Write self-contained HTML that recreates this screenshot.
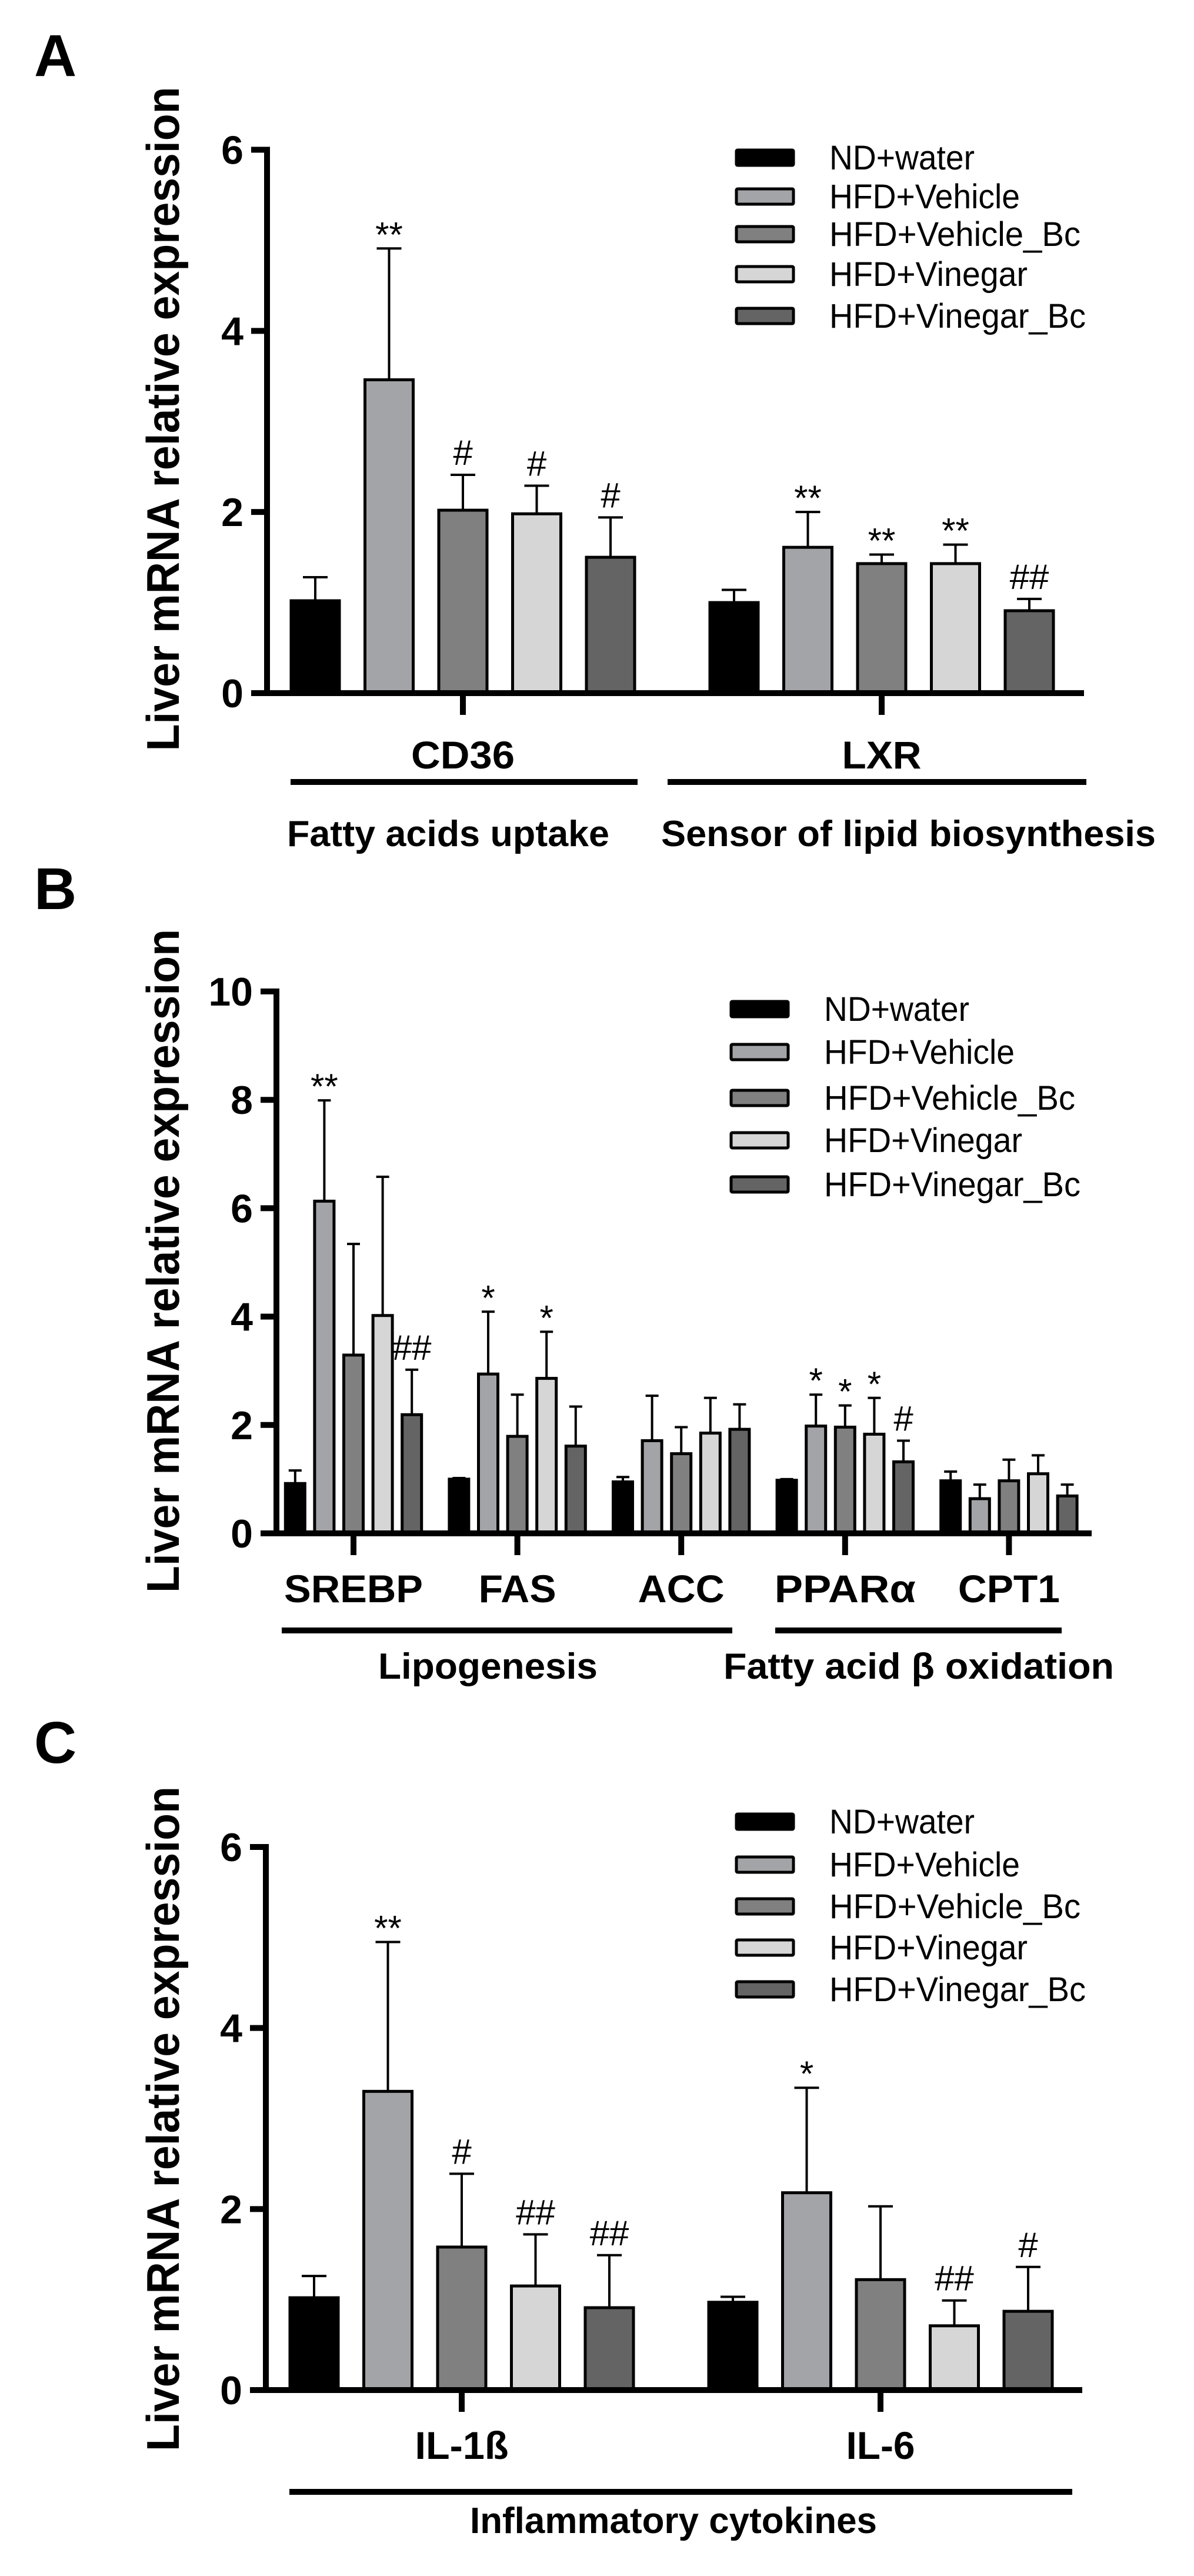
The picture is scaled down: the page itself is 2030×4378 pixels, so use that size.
<!DOCTYPE html>
<html><head><meta charset="utf-8"><style>
html,body{margin:0;padding:0;background:#fff;}
svg{display:block;}
text{font-family:"Liberation Sans",Arial,sans-serif;}
.narrow{font-family:"Liberation Sans Narrow","Liberation Sans",sans-serif;}
</style></head><body>
<svg id="fig" width="2030" height="4378" viewBox="0 0 2030 4378" xmlns="http://www.w3.org/2000/svg">
<rect x="0" y="0" width="2030" height="4378" fill="#fff"/>
</svg>
<script>
// ---- Data ----
const seriesNames = ["ND+water","HFD+Vehicle","HFD+Vehicle_Bc","HFD+Vinegar","HFD+Vinegar_Bc"];
const seriesColors = ["#000000","#a3a4a8","#808080","#d6d6d6","#646464"];

const catsA = ["CD36","LXR"];
const meanA = [[1.02,3.46,2.02,1.98,1.50],[1.00,1.61,1.43,1.43,0.91]];
const errA  = [[1.28,4.91,2.41,2.29,1.94],[1.14,2.00,1.53,1.64,1.04]];
const sigA  = [["","**","#","#","#"],["","**","**","**","##"]];
const ticksA = [0,2,4,6];

const catsB = ["SREBP","FAS","ACC","PPARα","CPT1"];
const meanB = [[0.92,6.13,3.29,4.02,2.19],[1.00,2.94,1.79,2.86,1.61],[0.95,1.71,1.47,1.85,1.92],[0.98,1.98,1.96,1.83,1.32],[0.97,0.64,0.97,1.10,0.69]];
const errB  = [[1.16,7.99,5.34,6.58,3.02],[1.02,4.09,2.56,3.72,2.34],[1.04,2.54,1.96,2.50,2.38],[1.00,2.56,2.36,2.50,1.71],[1.14,0.90,1.36,1.44,0.90]];
const sigB  = [["","**","","","##"],["","*","","*",""],["","","","",""],["","*","*","*","#"],["","","","",""]];
const ticksB = [0,2,4,6,8,10];

const catsC = ["IL-1ß","IL-6"];
const meanC = [[1.02,3.30,1.58,1.15,0.91],[0.97,2.18,1.22,0.71,0.87]];
const errC  = [[1.26,4.95,2.39,1.72,1.49],[1.03,3.34,2.03,0.99,1.36]];
const sigC  = [["","**","#","##","##"],["","*","","##","#"]];
const ticksC = [0,2,4,6];

// ---- Drawing ----
const NS="http://www.w3.org/2000/svg";
const svg=document.getElementById('fig');
function mk(tag,attrs,parent,txt){const e=document.createElementNS(NS,tag);for(const k in attrs)e.setAttribute(k,attrs[k]);if(txt!==undefined)e.textContent=txt;(parent||svg).appendChild(e);return e;}

function panel(cfg){
  const g=mk('g',{});
  
  
  const y=v=>cfg.y0-(v-0)*(cfg.y0-cfg.yTop)/(cfg.ymax);
  // letter
  const L=mk('text',{x:58,y:cfg.letterY,'font-size':100,'font-weight':'bold'},g,cfg.letter);
  
  
  // y label
  const yl=mk('text',{x:0,y:0,'font-size':78,'font-weight':'bold','text-anchor':'middle',transform:`translate(304,${cfg.ylabC}) rotate(-90)`,textLength:cfg.ylabLen,lengthAdjust:'spacingAndGlyphs'},g,"Liver mRNA relative expression");
  
  
  // bars
  cfg.cats.forEach((c,ci)=>{
    const gc=cfg.g0+ci*cfg.gp;
    cfg.mean[ci].forEach((m,si)=>{
      const cx=gc+(si-2)*cfg.bp;
      const e=cfg.err[ci][si];
      const ln=mk('line',{x1:cx,x2:cx,y1:y(m),y2:y(e),stroke:'#000','stroke-width':cfg.ew},g);
      
      
      const cp=mk('line',{x1:cx-cfg.cw/2,x2:cx+cfg.cw/2,y1:y(e),y2:y(e),stroke:'#000','stroke-width':cfg.ew},g);
      
      
      const r=mk('rect',{x:cx-cfg.bw/2,y:y(m),width:cfg.bw,height:y(0)-y(m),fill:seriesColors[si],stroke:'#000','stroke-width':cfg.bs},g);
      
      
      const s=cfg.sig[ci][si];
      if(s){
        const star=s.indexOf('*')>=0;
        const t=mk('text',{x:cx,y:y(e)-(star?3:17),'font-size':60,'text-anchor':'middle',class:'narrow'},g,s);
        
        
      }
    });
    const tk=mk('line',{x1:gc,x2:gc,y1:cfg.y0,y2:cfg.y0+37,stroke:'#000','stroke-width':10},g);
    
    
    const cl=mk('text',{x:gc,y:cfg.catY,'font-size':66,'font-weight':'bold','text-anchor':'middle',textLength:cfg.catW[ci],lengthAdjust:'spacingAndGlyphs'},g,c);
    
    
  });
  // axes
  const ya=mk('line',{x1:cfg.ax,x2:cfg.ax,y1:cfg.yTop-5,y2:cfg.y0+5,stroke:'#000','stroke-width':10},g);
  
  
  const xa=mk('line',{x1:cfg.ax-5,x2:cfg.xEnd,y1:cfg.y0,y2:cfg.y0,stroke:'#000','stroke-width':10},g);
  
  
  cfg.ticks.forEach(t=>{
    const l=mk('line',{x1:cfg.ax-27,x2:cfg.ax,y1:y(t),y2:y(t),stroke:'#000','stroke-width':10},g);
    
    
    const tl=mk('text',{x:cfg.ax-40,y:y(t)+24,'font-size':68,'font-weight':'bold','text-anchor':'end',class:'narrow'},g,String(t));
    
    
  });
  // group lines + labels
  cfg.groups.forEach(gr=>{
    const l=mk('line',{x1:gr[0],x2:gr[1],y1:cfg.ulY,y2:cfg.ulY,stroke:'#000','stroke-width':10},g);
    
    
    const t=mk('text',{x:gr[2],y:cfg.glY,'font-size':62,'font-weight':'bold',textLength:gr[4]-gr[2],lengthAdjust:'spacingAndGlyphs'},g,gr[3]);
    
    
  });
  // legend
  seriesNames.forEach((n,i)=>{
    const cy=cfg.legY[i];
    const r=mk('rect',{x:cfg.legX,y:cy-13,width:97,height:26,fill:seriesColors[i],stroke:'#000','stroke-width':5,rx:2},g);
    
    
    const lw=[247,324,427,337,436][i];
    const t=mk('text',{x:cfg.legX+158,y:cy+20,'font-size':58,class:'narrow',textLength:lw,lengthAdjust:'spacingAndGlyphs'},g,n);
    
    
  });
}

panel({name:'panel-a',letter:'A',letterY:129,ax:454,y0:1178,yTop:254.5,ymax:6,xEnd:1843,
  cats:catsA,mean:meanA,err:errA,sig:sigA,ticks:ticksA,g0:787,gp:712,bp:125.5,bw:82,bs:5,cw:42,ew:4,
  catY:1306,catW:[176,135],ulY:1329,glY:1438,
  groups:[[494,1084,488,'Fatty acids uptake',1036],[1135,1847,1124,'Sensor of lipid biosynthesis',1965]],
  ylabC:712,ylabLen:1129,legX:1252,legY:[268,334,398,466,537]});

panel({name:'panel-b',letter:'B',letterY:1545,ax:470,y0:2606,yTop:1685,ymax:10,xEnd:1856,
  cats:catsB,mean:meanB,err:errB,sig:sigB,ticks:ticksB,g0:601,gp:278.6,bp:49.6,bw:33,bs:5,cw:22,ew:4,
  catY:2723,catW:[236,132,147,240,173],ulY:2771,glY:2853,
  groups:[[479,1245,643,'Lipogenesis',1016],[1318,1805,1230,'Fatty acid β oxidation',1894]],
  ylabC:2143,ylabLen:1128,legX:1243,legY:[1715,1788,1866,1938,2013]});

panel({name:'panel-c',letter:'C',letterY:2996,ax:452,y0:4062,yTop:3139,ymax:6,xEnd:1840,
  cats:catsC,mean:meanC,err:errC,sig:sigC,ticks:ticksC,g0:785,gp:712,bp:125.5,bw:82,bs:5,cw:42,ew:4,
  catY:4179,catW:[159,117],ulY:4235,glY:4305,
  groups:[[492,1823,799,'Inflammatory cytokines',1491]],
  ylabC:3601,ylabLen:1130,legX:1252,legY:[3096,3169,3240,3310,3381]});
</script>
</body></html>
